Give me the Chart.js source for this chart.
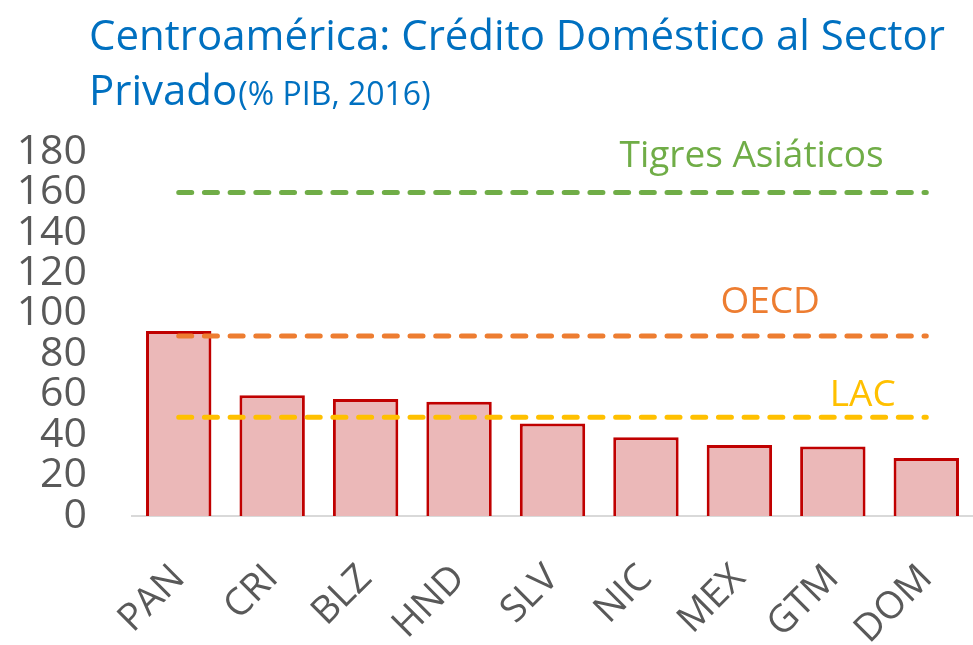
<!DOCTYPE html>
<html>
<head>
<meta charset="utf-8">
<script src="https://cdn.jsdelivr.net/npm/chart.js@4"></script>
<style>
  html, body { margin: 0; padding: 0; background: #fff; }
  #wrap { width: 973px; height: 645px; }
</style>
</head>
<body>
<div id="wrap"><canvas id="chart"></canvas></div>
<script>
const countries = ['PAN', 'CRI', 'BLZ', 'HND', 'SLV', 'NIC', 'MEX', 'GTM', 'DOM'];
const credit = [91.5, 59.7, 57.9, 56.5, 45.8, 38.9, 35.1, 34.4, 28.7];
const benchNames = ['Tigres Asiáticos', 'OECD', 'LAC'];
const benchValues = [160, 89, 48.8];
const yTicks = [0, 20, 40, 60, 80, 100, 120, 140, 160, 180];

const FONT = "'Open Sans', 'Noto Sans', sans-serif";
const benchColors = ['#70AD47', '#ED7D31', '#FFC000'];
// label placement: x as category position, y offset above the line
const benchLabelPos = [
    { x: 6.13, dy: 25 },
    { x: 6.33, dy: 23 },
    { x: 7.32, dy: 11 },
];

function benchDataset(i) {
    return {
        type: 'line',
        label: benchNames[i],
        data: countries.map(() => benchValues[i]),
        borderColor: benchColors[i],
        borderWidth: 5,
        borderDash: [13, 12.7],
        borderCapStyle: 'round',
        pointRadius: 0,
        fill: false,
        order: 0,
    };
}

const titlePlugin = {
    id: 'titleText',
    afterDraw(chart) {
        const ctx = chart.ctx;
        ctx.save();
        ctx.fillStyle = '#0070C0';
        ctx.textBaseline = 'alphabetic';
        ctx.textAlign = 'left';
        ctx.font = '42px ' + FONT;
        ctx.fillText('Centroamérica: Crédito Doméstico al Sector', 89, 50);
        ctx.fillText('Privado', 89, 105);
        const w = ctx.measureText('Privado').width;
        ctx.font = '32px ' + FONT;
        ctx.fillText('(% PIB, 2016)', 89 + w + 1, 105);
        ctx.restore();
    }
};

const benchLabelPlugin = {
    id: 'benchLabels',
    afterDatasetsDraw(chart) {
        const ctx = chart.ctx;
        const x = chart.scales.x;
        const y = chart.scales.y;
        ctx.save();
        ctx.font = '37px ' + FONT;
        ctx.textAlign = 'center';
        ctx.textBaseline = 'alphabetic';
        benchNames.forEach((name, i) => {
            ctx.fillStyle = benchColors[i];
            const px = x.getPixelForValue(benchLabelPos[i].x);
            const py = y.getPixelForValue(benchValues[i]) - benchLabelPos[i].dy;
            ctx.fillText(name, px, py);
        });
        ctx.restore();
    }
};

const config = {
    type: 'bar',
    data: {
        labels: countries,
        datasets: [
            {
                label: 'Crédito',
                data: credit,
                backgroundColor: '#EBB8B8',
                borderColor: '#C00000',
                borderWidth: 3,
                borderSkipped: 'bottom',
                categoryPercentage: 1,
                barPercentage: 0.7,
                order: 1,
            },
            benchDataset(0),
            benchDataset(1),
            benchDataset(2),
        ]
    },
    options: {
        responsive: true,
        maintainAspectRatio: false,
        animation: false,
        layout: { padding: { top: 152, left: 0, right: 0, bottom: 0 } },
        plugins: {
            legend: { display: false },
            tooltip: { enabled: false },
            title: { display: false },
        },
        scales: {
            x: {
                grid: { display: false, drawTicks: false },
                border: { display: true, color: '#D9D9D9', width: 2 },
                ticks: {
                    color: '#595959',
                    font: { family: FONT, size: 38 },
                    minRotation: 45,
                    maxRotation: 45,
                    padding: 40,
                    autoSkip: false,
                },
                afterFit(scale) {
                    scale.height = 129;
                    scale.paddingLeft = 0;
                    scale.paddingRight = 0;
                },
            },
            y: {
                min: 0,
                max: 180,
                grid: { display: false, drawTicks: false },
                border: { display: false },
                afterBuildTicks(scale) { scale.ticks = yTicks.map(v => ({ value: v })); },
                ticks: {
                    color: '#595959',
                    font: { family: FONT, size: 41, lineHeight: 0.9 },
                    padding: 45,
                    autoSkip: false,
                },
                afterFit(scale) { scale.width = 132; },
            }
        }
    },
    plugins: [titlePlugin, benchLabelPlugin],
};

new Chart(document.getElementById('chart'), config);
</script>
</body>
</html>
